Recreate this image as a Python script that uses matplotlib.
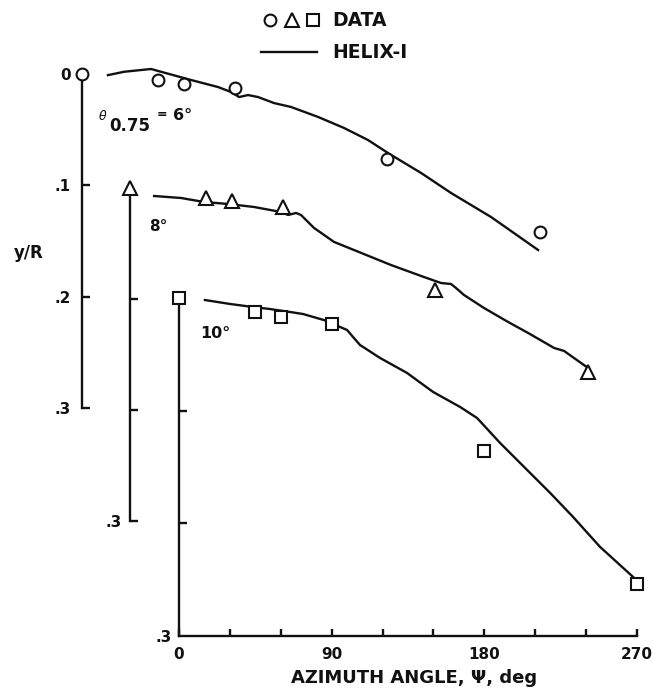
import matplotlib
matplotlib.use("Agg")
import matplotlib.pyplot as plt
from matplotlib.lines import Line2D

plt.rcParams["font.family"] = ["DejaVu Sans"]
plt.rcParams["font.weight"] = "bold"

# ---- data -------------------------------------------------------------
# measured azimuth stations (deg)
psi_data = [45, 60, 90, 180, 270]
# measured tip-vortex y/R for each collective pitch
data_6 = [0.005, 0.009, 0.013, 0.076, 0.142]
data_8 = [0.009, 0.012, 0.017, 0.092, 0.166]
data_10 = [0.012, 0.017, 0.023, 0.136, 0.254]

# HELIX-I predictions
psi_6 = [15.3, 24.8, 40.7, 46.6, 64.3, 80.2, 87.9, 92.6, 97.9, 103.8, 113.2,
         123.2, 139.2, 154.5, 168.6, 180.4, 199.9, 217.6, 241.2, 268.9]
yr_6 = [0.001, -0.002, -0.0045, -0.002, 0.0054, 0.0117, 0.0162, 0.0207, 0.0189,
        0.0207, 0.0261, 0.0296, 0.0386, 0.0485, 0.0593, 0.071, 0.0889, 0.1069,
        0.1285, 0.1581]

psi_8 = [14.2, 30.1, 43.6, 57.8, 73.1, 89.0, 93.2, 97.9, 100.8, 108.5, 120.3,
         135.0, 153.9, 173.3, 183.4, 189.3, 192.2, 196.9, 208.7, 222.9, 234.7,
         250.0, 255.9, 261.8, 270.1]
yr_8 = [0.0072, 0.009, 0.0126, 0.0144, 0.0171, 0.0216, 0.0243, 0.0225, 0.0243,
        0.036, 0.0486, 0.0577, 0.0694, 0.0802, 0.0856, 0.0865, 0.0901, 0.0964,
        0.1081, 0.1207, 0.1306, 0.1441, 0.1468, 0.1532, 0.1622]

psi_10 = [15.3, 30.1, 43.6, 53.7, 65.4, 73.1, 87.3, 94.9, 99.1, 102.6, 106.7,
          118.5, 134.4, 149.8, 165.7, 175.7, 182.2, 189.3, 205.2, 218.8, 232.3,
          248.2, 267.7]
yr_10 = [0.0018, 0.0053, 0.008, 0.0098, 0.0124, 0.0142, 0.0204, 0.0257, 0.0284,
         0.0346, 0.0417, 0.0532, 0.0665, 0.0834, 0.0967, 0.1065, 0.1171, 0.1287,
         0.1526, 0.173, 0.1943, 0.2209, 0.2476]

x_major = [0, 90, 180, 270]
x_major_labels = ["0", "90", "180", "270"]
x_minor = [30, 60, 120, 150, 210, 240]

# ---- layout -----------------------------------------------------------
W, H = 653, 689
fig = plt.figure(figsize=(W / 100, H / 100), dpi=100)
fig.patch.set_facecolor("white")

INK = "#111111"
LW = 1.7
TICK_FS = 11


def fx(px):
    return px / W


def fy(py):
    return 1 - py / H


def staggered_axes(left, top, bottom, width=458):
    ax = fig.add_axes([fx(left), fy(bottom), width / W, (bottom - top) / H])
    ax.set_facecolor("none")
    ax.set_xlim(0, 270)
    ax.set_ylim(0.3, 0)
    for s in ("top", "right", "bottom"):
        ax.spines[s].set_visible(False)
    ax.spines["left"].set_linewidth(LW)
    ax.spines["left"].set_color(INK)
    ax.tick_params(axis="y", direction="in", length=6, width=LW, color=INK,
                   labelsize=TICK_FS, labelcolor=INK)
    ax.set_xticks([])
    return ax


ax3 = staggered_axes(179, 298, 636)   # theta = 10 deg
ax2 = staggered_axes(130, 188, 521)   # theta = 8 deg
ax1 = staggered_axes(82, 74, 408)     # theta = 6 deg

# 6 deg axis: full labelling
ax1.set_yticks([0, 0.1, 0.2, 0.3])
ax1.set_yticklabels(["0", ".1", ".2", ".3"])
ax1.tick_params(axis="y", pad=8)
ax1.yaxis.get_major_ticks()[0].tick1line.set_visible(False)

# 8 deg axis
ax2.set_yticks([0.1, 0.2, 0.3])
ax2.set_yticklabels(["", "", ".3"])
ax2.tick_params(axis="y", pad=6)

# 10 deg axis with the azimuth scale
ax3.spines["bottom"].set_visible(True)
ax3.spines["bottom"].set_linewidth(LW)
ax3.spines["bottom"].set_color(INK)
ax3.set_yticks([0.1, 0.2, 0.3])
ax3.set_yticklabels(["", "", ".3"])
ax3.tick_params(axis="y", pad=5)
ax3.set_xticks(x_major)
ax3.set_xticklabels(x_major_labels)
ax3.set_xticks(x_minor, minor=True)
ax3.tick_params(axis="x", which="both", direction="in", length=5, width=LW,
                color=INK, labelsize=TICK_FS, labelcolor=INK, pad=8)
ax3.yaxis.get_major_ticks()[-1].tick1line.set_visible(False)
ax3.set_xlabel("AZIMUTH ANGLE, \u03a8, deg", fontsize=13, fontweight="bold",
               color=INK)
ax3.xaxis.set_label_coords((414 - 179) / 458, -(678 - 636) / 338)
ax3.xaxis.label.set_va("center")

# ---- curves and points ------------------------------------------------
mk = dict(linestyle="none", markerfacecolor="white", markeredgecolor=INK,
          markeredgewidth=1.5, clip_on=False, zorder=4)

ax1.plot(psi_6, yr_6, color=INK, lw=LW, clip_on=False, zorder=3)
ax1.plot(psi_data, data_6, marker="o", markersize=8.5, **mk)
ax1.plot([0], [0], marker="o", markersize=8.5, **mk)

ax2.plot(psi_8, yr_8, color=INK, lw=LW, clip_on=False, zorder=3)
ax2.plot(psi_data, data_8, marker="^", markersize=10, **mk)
ax2.plot([0], [0], marker="^", markersize=10, **mk)

ax3.plot(psi_10, yr_10, color=INK, lw=LW, clip_on=False, zorder=3)
ax3.plot(psi_data, data_10, marker="s", markersize=8, **mk)
ax3.plot([0], [0], marker="s", markersize=8, **mk)

# ---- labels -----------------------------------------------------------
fig.text(fx(29), fy(253), "y/R", fontsize=12, fontweight="bold", color=INK,
         ha="center", va="center")

fig.text(fx(99), fy(116), "\u03b8", fontsize=9, style="italic",
         fontweight="normal", color=INK, ha="left", va="center")
fig.text(fx(109), fy(126), "0.75", fontsize=12, fontweight="bold", color=INK,
         ha="left", va="center")
fig.text(fx(157), fy(115), "=", fontsize=9, fontweight="bold", color=INK,
         ha="left", va="center")
fig.text(fx(173), fy(116), "6\u00b0", fontsize=11.5, fontweight="bold",
         color=INK, ha="left", va="center")
fig.text(fx(149), fy(227), "8\u00b0", fontsize=11, fontweight="bold",
         color=INK, ha="left", va="center")
fig.text(fx(200), fy(333), "10\u00b0", fontsize=11.5, fontweight="bold",
         color=INK, ha="left", va="center")

# ---- key --------------------------------------------------------------
key_mk = dict(markerfacecolor="white", markeredgecolor=INK,
              markeredgewidth=1.5, linestyle="none", transform=fig.transFigure)
fig.add_artist(Line2D([fx(270)], [fy(20)], marker="o", markersize=8.5, **key_mk))
fig.add_artist(Line2D([fx(292)], [fy(20)], marker="^", markersize=10, **key_mk))
fig.add_artist(Line2D([fx(313)], [fy(20)], marker="s", markersize=8, **key_mk))
fig.add_artist(Line2D([fx(261), fx(317)], [fy(52), fy(52)], color=INK, lw=LW,
                      transform=fig.transFigure))
fig.text(fx(332), fy(21), "DATA", fontsize=13.5, fontweight="bold", color=INK,
         ha="left", va="center")
fig.text(fx(332), fy(53), "HELIX-I", fontsize=13.5, fontweight="bold", color=INK,
         ha="left", va="center")

fig.savefig("out.png", dpi=100, facecolor="white")
